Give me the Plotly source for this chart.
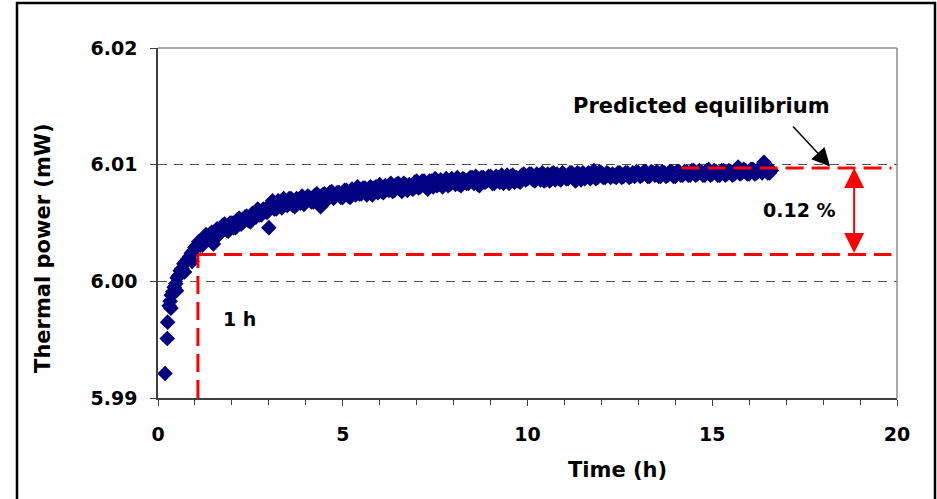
import plotly.graph_objects as go

# ---- data ----
# main sampling (every 0.1 h after the first hour)
TIME_H = [
    0.19, 0.25, 0.26, 0.30, 0.33, 0.35, 0.36, 0.40, 0.44, 0.48, 0.50, 0.52,
    0.56, 0.60, 0.65, 0.70, 0.72, 0.75, 0.80, 0.85, 0.90, 0.92, 0.95, 1.00, 1.05,
    1.1, 1.2, 1.3, 1.4, 1.5, 1.6, 1.7, 1.8, 1.9, 2.0,
    2.1, 2.2, 2.3, 2.4, 2.5, 2.6, 2.7, 2.8, 2.9, 3.0,
    3.1, 3.2, 3.3, 3.4, 3.5, 3.6, 3.7, 3.8, 3.9, 4.0,
    4.1, 4.2, 4.3, 4.4, 4.5, 4.6, 4.7, 4.8, 4.9, 5.0,
    5.1, 5.2, 5.3, 5.4, 5.5, 5.6, 5.7, 5.8, 5.9, 6.0,
    6.1, 6.2, 6.3, 6.4, 6.5, 6.6, 6.7, 6.8, 6.9, 7.0,
    7.1, 7.2, 7.3, 7.4, 7.5, 7.6, 7.7, 7.8, 7.9, 8.0,
    8.1, 8.2, 8.3, 8.4, 8.5, 8.6, 8.7, 8.8, 8.9, 9.0,
    9.1, 9.2, 9.3, 9.4, 9.5, 9.6, 9.7, 9.8, 9.9, 10.0,
    10.1, 10.2, 10.3, 10.4, 10.5, 10.6, 10.7, 10.8, 10.9, 11.0,
    11.1, 11.2, 11.3, 11.4, 11.5, 11.6, 11.7, 11.8, 11.9, 12.0,
    12.1, 12.2, 12.3, 12.4, 12.5, 12.6, 12.7, 12.8, 12.9, 13.0,
    13.1, 13.2, 13.3, 13.4, 13.5, 13.6, 13.7, 13.8, 13.9, 14.0,
    14.1, 14.2, 14.3, 14.4, 14.5, 14.6, 14.7, 14.8, 14.9, 15.0,
    15.1, 15.2, 15.3, 15.4, 15.5, 15.6, 15.7, 15.8, 15.9, 16.0,
    16.1, 16.2, 16.3, 16.4, 16.5, 16.6,
]
POWER_MW = [
    5.9921, 5.9951, 5.9965, 5.9979, 5.9983, 5.9977, 5.9988, 5.9991, 5.9995, 5.9998, 5.9992, 6.0003,
    6.0005, 6.0009, 6.0011, 6.0015, 6.0008, 6.0017, 6.0019, 6.0021, 6.0024, 6.0017, 6.0026, 6.0029, 6.0031,
    6.0034, 6.0031, 6.0040, 6.0037, 6.0032, 6.0045, 6.0042, 6.0049, 6.0043, 6.0050,
    6.0046, 6.0054, 6.0051, 6.0056, 6.0051, 6.0058, 6.0062, 6.0057, 6.0061, 6.0046,
    6.0069, 6.0062, 6.0068, 6.0071, 6.0065, 6.0071, 6.0064, 6.0070, 6.0073, 6.0068,
    6.0072, 6.0068, 6.0075, 6.0064, 6.0075, 6.0071, 6.0077, 6.0073, 6.0076, 6.0072,
    6.0078, 6.0072, 6.0077, 6.0081, 6.0075, 6.0080, 6.0077, 6.0074, 6.0081, 6.0083,
    6.0076, 6.0081, 6.0084, 6.0078, 6.0084, 6.0077, 6.0083, 6.0083, 6.0079, 6.0086,
    6.0081, 6.0086, 6.0079, 6.0086, 6.0088, 6.0083, 6.0081, 6.0088, 6.0083, 6.0086,
    6.0089, 6.0082, 6.0087, 6.0084, 6.0089, 6.0090, 6.0082, 6.0089, 6.0086, 6.0090,
    6.0084, 6.0089, 6.0091, 6.0086, 6.0084, 6.0091, 6.0089, 6.0085, 6.0092, 6.0088,
    6.0092, 6.0086, 6.0090, 6.0093, 6.0087, 6.0086, 6.0093, 6.0092, 6.0087, 6.0091,
    6.0088, 6.0093, 6.0086, 6.0092, 6.0093, 6.0090, 6.0088, 6.0095, 6.0089, 6.0093,
    6.0089, 6.0092, 6.0092, 6.0089, 6.0093, 6.0090, 6.0093, 6.0090, 6.0090, 6.0093,
    6.0091, 6.0094, 6.0090, 6.0093, 6.0094, 6.0090, 6.0093, 6.0091, 6.0094, 6.0090,
    6.0094, 6.0091, 6.0094, 6.0091, 6.0095, 6.0092, 6.0094, 6.0091, 6.0096, 6.0092,
    6.0094, 6.0091, 6.0095, 6.0092, 6.0094, 6.0092, 6.0098, 6.0093, 6.0095, 6.0092,
    6.0096, 6.0093, 6.0095, 6.0102, 6.0093, 6.0095,
]
# interleaved readings (half-way between the main ones)
TIME_H_B = [
    1.15, 1.25, 1.35, 1.45, 1.55, 1.65, 1.75, 1.85, 1.95, 2.05,
    2.15, 2.25, 2.35, 2.45, 2.55, 2.65, 2.75, 2.85, 2.95, 3.05,
    3.15, 3.25, 3.35, 3.45, 3.55, 3.65, 3.75, 3.85, 3.95, 4.05,
    4.15, 4.25, 4.35, 4.45, 4.55, 4.65, 4.75, 4.85, 4.95, 5.05,
    5.15, 5.25, 5.35, 5.45, 5.55, 5.65, 5.75, 5.85, 5.95, 6.05,
    6.15, 6.25, 6.35, 6.45, 6.55, 6.65, 6.75, 6.85, 6.95, 7.05,
    7.15, 7.25, 7.35, 7.45, 7.55, 7.65, 7.75, 7.85, 7.95, 8.05,
    8.15, 8.25, 8.35, 8.45, 8.55, 8.65, 8.75, 8.85, 8.95, 9.05,
    9.15, 9.25, 9.35, 9.45, 9.55, 9.65, 9.75, 9.85, 9.95, 10.05,
    10.15, 10.25, 10.35, 10.45, 10.55, 10.65, 10.75, 10.85, 10.95, 11.05,
    11.15, 11.25, 11.35, 11.45, 11.55, 11.65, 11.75, 11.85, 11.95, 12.05,
    12.15, 12.25, 12.35, 12.45, 12.55, 12.65, 12.75, 12.85, 12.95, 13.05,
    13.15, 13.25, 13.35, 13.45, 13.55, 13.65, 13.75, 13.85, 13.95, 14.05,
    14.15, 14.25, 14.35, 14.45, 14.55, 14.65, 14.75, 14.85, 14.95, 15.05,
    15.15, 15.25, 15.35, 15.45, 15.55, 15.65, 15.75, 15.85, 15.95, 16.05,
    16.15, 16.25, 16.35, 16.45, 16.55,
]
POWER_MW_B = [
    6.0031, 6.0038, 6.0036, 6.0042, 6.0043, 6.0040, 6.0048, 6.0044, 6.0050, 6.0046,
    6.0053, 6.0049, 6.0055, 6.0052, 6.0058, 6.0055, 6.0057, 6.0062, 6.0059, 6.0066,
    6.0062, 6.0069, 6.0063, 6.0066, 6.0071, 6.0065, 6.0071, 6.0067, 6.0066, 6.0073,
    6.0068, 6.0074, 6.0069, 6.0074, 6.0069, 6.0076, 6.0071, 6.0076, 6.0072, 6.0078,
    6.0073, 6.0079, 6.0074, 6.0075, 6.0080, 6.0074, 6.0081, 6.0080, 6.0076, 6.0077,
    6.0082, 6.0078, 6.0077, 6.0083, 6.0079, 6.0084, 6.0078, 6.0080, 6.0085, 6.0080,
    6.0086, 6.0081, 6.0086, 6.0081, 6.0082, 6.0087, 6.0086, 6.0082, 6.0088, 6.0083,
    6.0083, 6.0088, 6.0084, 6.0089, 6.0084, 6.0083, 6.0089, 6.0085, 6.0090, 6.0084,
    6.0090, 6.0085, 6.0084, 6.0091, 6.0090, 6.0085, 6.0086, 6.0091, 6.0087, 6.0092,
    6.0087, 6.0092, 6.0087, 6.0086, 6.0092, 6.0092, 6.0087, 6.0088, 6.0093, 6.0088,
    6.0093, 6.0088, 6.0093, 6.0087, 6.0088, 6.0093, 6.0093, 6.0088, 6.0094, 6.0089,
    6.0093, 6.0089, 6.0090, 6.0093, 6.0089, 6.0093, 6.0089, 6.0093, 6.0094, 6.0090,
    6.0094, 6.0090, 6.0094, 6.0091, 6.0090, 6.0094, 6.0090, 6.0094, 6.0090, 6.0094,
    6.0091, 6.0094, 6.0091, 6.0095, 6.0091, 6.0095, 6.0091, 6.0095, 6.0091, 6.0095,
    6.0091, 6.0095, 6.0091, 6.0095, 6.0091, 6.0096, 6.0092, 6.0096, 6.0092, 6.0096,
    6.0092, 6.0096, 6.0093, 6.0096, 6.0093,
]

EQUILIBRIUM = 6.00971      # predicted equilibrium level
ONE_HOUR_LEVEL = 6.0023    # level reached after 1 h
ONE_HOUR_T = 1.08
X_TICKS = [0, 5, 10, 15, 20]
Y_TICKS = [5.99, 6.00, 6.01, 6.02]

FONT = "DejaVu Sans"
NAVY = "#000080"
RED = "#FF0000"

fig = go.Figure()
fig.add_trace(go.Scatter(
    x=TIME_H + TIME_H_B, y=POWER_MW + POWER_MW_B, mode="markers",
    marker=dict(symbol="diamond", size=12, color=NAVY, line=dict(width=0)),
    showlegend=False, hoverinfo="skip",
))

red_dash = "18px,8px"
shapes = [
    dict(type="line", xref="paper", yref="paper", x0=0, x1=1, y0=1, y1=1,
         line=dict(color="#8c8c8c", width=1.5), layer="above"),
    dict(type="line", xref="paper", yref="paper", x0=1, x1=1, y0=0, y1=1,
         line=dict(color="#8c8c8c", width=1.5), layer="above"),
    dict(type="line", xref="x", yref="y", x0=ONE_HOUR_T, x1=19.85,
         y0=ONE_HOUR_LEVEL, y1=ONE_HOUR_LEVEL, line=dict(color=RED, width=3, dash=red_dash)),
    dict(type="line", xref="x", yref="y", x0=ONE_HOUR_T, x1=ONE_HOUR_T,
         y0=5.99, y1=ONE_HOUR_LEVEL, line=dict(color=RED, width=3, dash=red_dash)),
    dict(type="line", xref="x", yref="y", x0=14.17, x1=19.85,
         y0=EQUILIBRIUM, y1=EQUILIBRIUM, line=dict(color=RED, width=3, dash=red_dash)),
    dict(type="rect", xref="paper", yref="paper", x0=-0.1908, x1=1.0514, y0=-0.32, y1=1.1288,
         line=dict(color="black", width=2.5), layer="above"),
]

bold = dict(family=FONT, size=19, color="black", weight="bold")
title_font = dict(family=FONT, size=21, color="black", weight="bold")
tiny = dict(size=1)
annotations = [
    dict(x=14.70, y=6.01506, xref="x", yref="y", text="Predicted equilibrium",
         showarrow=False, font=title_font, xanchor="center", yanchor="middle"),
    dict(x=18.19, y=6.00985, ax=17.15, ay=6.01340, xref="x", yref="y", axref="x", ayref="y",
         text="", font=tiny, showarrow=True, arrowhead=2, arrowsize=2.4, arrowwidth=1.5,
         arrowcolor="black"),
    dict(x=18.84, y=EQUILIBRIUM, ax=18.84, ay=ONE_HOUR_LEVEL, xref="x", yref="y",
         axref="x", ayref="y", text="", font=tiny, showarrow=True, arrowside="end+start",
         arrowhead=2, startarrowhead=2, arrowsize=2.0, startarrowsize=2.0,
         arrowwidth=2, arrowcolor=RED),
    dict(x=17.37, y=6.00614, xref="x", yref="y", text="0.12 %", showarrow=False, font=bold,
         xanchor="center", yanchor="middle"),
    dict(x=2.20, y=5.9968, xref="x", yref="y", text="1 h", showarrow=False, font=bold,
         xanchor="center", yanchor="middle"),
    dict(x=0.622, y=-0.207, xref="paper", yref="paper", text="Time (h)", showarrow=False,
         font=title_font, xanchor="center", yanchor="middle"),
    dict(x=-0.1556, y=0.426, xref="paper", yref="paper", text="Thermal power (mW)",
         showarrow=False, textangle=-90, font=title_font, xanchor="center", yanchor="middle"),
]

fig.update_layout(
    width=937, height=499,
    margin=dict(l=158, r=40, t=48, b=101, pad=0),
    paper_bgcolor="white", plot_bgcolor="white",
    shapes=shapes, annotations=annotations,
    showlegend=False,
)
fig.update_xaxes(
    range=[0, 20], tickvals=X_TICKS, ticktext=[str(v) for v in X_TICKS],
    ticks="outside", ticklen=6, tickwidth=1, tickcolor="#404040",
    minor=dict(dtick=1, ticks="outside", ticklen=5, tickwidth=1, tickcolor="#404040", showgrid=False),
    showline=True, linecolor="#404040", linewidth=1.5,
    showgrid=False, zeroline=False, tickfont=bold, ticklabelstandoff=12,
)
fig.update_yaxes(
    range=[5.99, 6.02], tickvals=Y_TICKS, ticktext=[f"{v:.2f}" for v in Y_TICKS],
    ticks="outside", ticklen=6, tickwidth=1, tickcolor="#404040",
    showline=True, linecolor="#404040", linewidth=1.5,
    showgrid=True, gridcolor="#505050", gridwidth=1, griddash="9px,7px",
    zeroline=False, tickfont=bold, ticklabelstandoff=9,
)

fig.write_html("out.html")
